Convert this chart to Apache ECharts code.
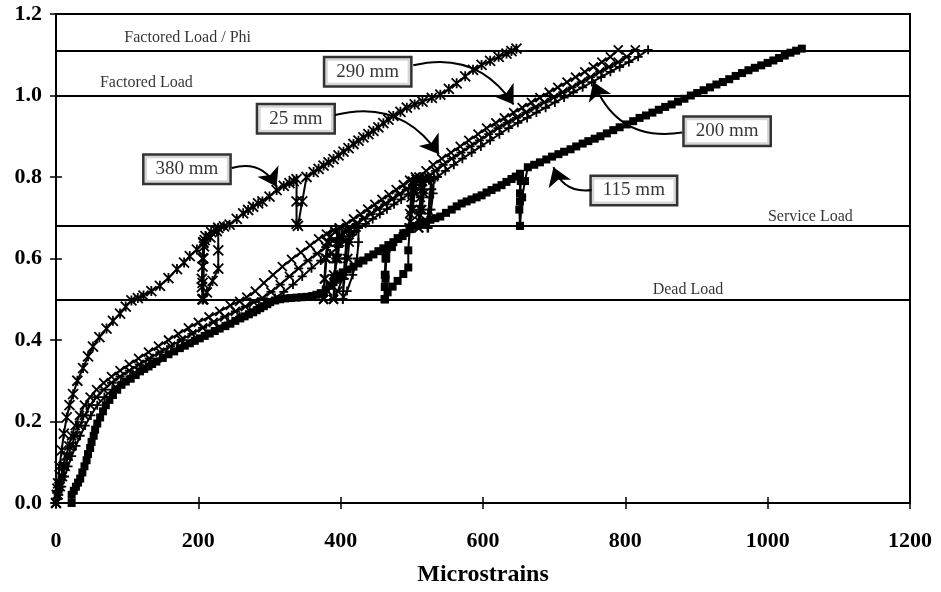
<!DOCTYPE html>
<html><head><meta charset="utf-8">
<script src="https://cdn.jsdelivr.net/npm/echarts@6/dist/echarts.min.js"></script>
<style>html,body{margin:0;padding:0;background:#fff}#c{width:941px;height:592px}</style>
</head><body><div id="c"></div>
<script>
// ---- data ----
const xTicks = [0, 200, 400, 600, 800, 1000, 1200];
const yTicks = [0, 0.2, 0.4, 0.6, 0.8, 1.0, 1.2];
const loadLevels = [1.11, 1.0, 0.675, 0.5];
const loadNames = ['Factored Load / Phi', 'Factored Load', 'Service Load', 'Dead Load'];
const seriesNames = ['380 mm', '25 mm', '290 mm', '200 mm', '115 mm'];

const x380 = [0,1,2,3,5,8,11,15,19,24,30,38,45,52,61,71,80,90,98,106,115,123,134,146,158,170,180,188,198,207,217,226,228,
  228,228,220,212,206,
  205,206,207,206,205,206,208,207,206,207,209,210,
  218,228,236,244,254,263,270,277,284,290,300,310,320,328,334,338,
  338,338,340,346,352,
  362,369,376,383,390,397,404,411,418,425,432,439,446,453,460,467,474,484,493,504,515,528,540,552,563,575,586,598,610,622,633,640,647];
const y380 = [0,0.02,0.035,0.048,0.09,0.129,0.17,0.21,0.24,0.267,0.3,0.331,0.36,0.384,0.407,0.428,0.447,0.465,0.482,0.497,0.503,0.509,0.52,0.533,0.552,0.574,0.59,0.606,0.622,0.638,0.652,0.667,0.675,
  0.62,0.575,0.545,0.517,0.5,
  0.55,0.6,0.64,0.5,0.53,0.58,0.63,0.5,0.54,0.6,0.645,0.655,
  0.665,0.675,0.679,0.683,0.697,0.711,0.719,0.727,0.735,0.74,0.752,0.768,0.778,0.785,0.79,0.795,
  0.74,0.685,0.68,0.74,0.8,
  0.812,0.82,0.828,0.836,0.844,0.853,0.862,0.871,0.881,0.889,0.897,0.905,0.913,0.922,0.932,0.941,0.95,0.96,0.97,0.978,0.985,0.994,1.002,1.016,1.03,1.047,1.063,1.075,1.085,1.095,1.103,1.109,1.115];

const x25 = [0,2,4,7,10,14,18,22,27,33,40,48,57,67,78,90,103,116,130,144,158,172,186,200,215,230,245,258,268,280,292,305,318,331,344,357,369,380,390,398,
  398,396,390,382,376,377,379,381,376,378,380,383,386,392,398,
  408,418,428,438,448,458,468,478,488,497,505,
  504,501,498,496,497,499,501,497,499,502,506,510,
  520,530,542,555,568,580,593,605,618,630,643,655,668,680,693,705,718,730,743,755,767,779,790];
const y25 = [0,0.02,0.04,0.065,0.09,0.115,0.14,0.165,0.19,0.215,0.24,0.26,0.278,0.295,0.31,0.325,0.34,0.355,0.37,0.385,0.4,0.415,0.43,0.443,0.457,0.47,0.485,0.495,0.505,0.52,0.54,0.56,0.58,0.598,0.615,0.632,0.648,0.66,0.67,0.675,
  0.64,0.6,0.56,0.52,0.5,0.55,0.6,0.64,0.5,0.55,0.6,0.64,0.655,0.665,0.675,
  0.685,0.697,0.709,0.721,0.733,0.745,0.757,0.769,0.781,0.792,0.8,
  0.76,0.72,0.69,0.675,0.71,0.75,0.79,0.675,0.72,0.77,0.795,0.8,
  0.815,0.83,0.845,0.86,0.875,0.89,0.905,0.92,0.933,0.945,0.958,0.97,0.983,0.995,1.008,1.02,1.033,1.045,1.058,1.07,1.082,1.095,1.112];

const x290 = [0,3,6,9,13,17,22,27,33,40,48,57,67,78,90,103,117,131,146,161,176,191,206,221,237,252,266,278,290,302,315,328,341,354,367,379,390,400,408,412,
  412,410,404,396,390,391,393,395,390,392,394,397,400,406,412,
  422,432,442,452,462,472,482,492,502,511,518,
  517,514,511,509,510,512,514,510,512,515,519,523,
  533,544,556,569,582,595,608,621,634,647,660,673,686,699,712,725,738,751,764,777,790,802,814];
const y290 = [0,0.02,0.04,0.065,0.09,0.115,0.14,0.165,0.19,0.215,0.24,0.26,0.278,0.295,0.31,0.325,0.34,0.355,0.37,0.385,0.4,0.415,0.43,0.443,0.457,0.47,0.482,0.493,0.503,0.518,0.536,0.556,0.576,0.595,0.612,0.628,0.645,0.658,0.668,0.675,
  0.64,0.6,0.56,0.52,0.5,0.55,0.6,0.64,0.5,0.55,0.6,0.64,0.655,0.665,0.675,
  0.685,0.697,0.709,0.721,0.733,0.745,0.757,0.769,0.781,0.792,0.8,
  0.76,0.72,0.69,0.675,0.71,0.75,0.79,0.675,0.72,0.77,0.795,0.8,
  0.815,0.83,0.845,0.86,0.875,0.89,0.905,0.92,0.933,0.945,0.958,0.97,0.983,0.995,1.008,1.02,1.033,1.045,1.058,1.07,1.082,1.095,1.112];

const x200 = [0,4,8,12,17,22,28,34,41,49,58,68,79,91,104,118,132,147,162,178,194,210,226,242,258,272,285,297,308,320,333,346,359,372,385,397,407,416,422,425,
  425,423,417,409,403,404,406,408,403,405,407,410,413,419,425,
  435,445,455,465,475,485,495,505,515,524,531,
  530,527,524,522,523,525,527,523,525,528,532,536,
  547,559,571,584,597,610,623,636,649,662,675,688,701,714,727,740,753,766,779,792,805,818,832];
const y200 = [0,0.02,0.04,0.065,0.09,0.115,0.14,0.165,0.19,0.215,0.24,0.26,0.278,0.295,0.31,0.325,0.34,0.355,0.37,0.385,0.4,0.415,0.43,0.443,0.457,0.47,0.482,0.493,0.503,0.518,0.536,0.556,0.576,0.595,0.612,0.628,0.645,0.658,0.668,0.675,
  0.64,0.6,0.56,0.52,0.5,0.55,0.6,0.64,0.5,0.55,0.6,0.64,0.655,0.665,0.675,
  0.685,0.697,0.709,0.721,0.733,0.745,0.757,0.769,0.781,0.792,0.8,
  0.76,0.72,0.69,0.675,0.71,0.75,0.79,0.675,0.72,0.77,0.795,0.8,
  0.815,0.83,0.845,0.86,0.875,0.89,0.905,0.92,0.933,0.945,0.958,0.97,0.983,0.995,1.008,1.02,1.033,1.045,1.058,1.07,1.082,1.095,1.112];

const x115 = [22,22,25,28,31,34,37,40,43,45,48,50,53,55,58,62,66,70,75,80,86,92,98,105,112,118,124,130,135,141,150,158,166,174,181,188,195,202,209,216,223,230,238,245,252,259,265,271,277,282,287,292,297,301,308,315,322,330,338,345,352,360,366,372,379,385,390,395,399,403,410,418,425,432,439,446,453,460,467,474,481,487,492,497,
  495,495,488,480,473,466,462,
  462,462,463,462,463,464,462,463,464,472,480,488,497,
  505,512,519,526,533,540,548,556,563,570,577,584,591,598,605,612,619,626,633,640,646,652,
  652,651,652,652,653,652,655,659,663,
  672,680,689,697,706,714,723,731,740,748,757,765,774,783,792,802,811,820,829,838,847,856,865,874,883,892,901,910,919,928,937,946,955,964,973,982,991,1000,1008,1016,1024,1032,1040,1048];
const y115 = [0,0.02,0.03,0.04,0.05,0.06,0.075,0.09,0.105,0.12,0.135,0.15,0.165,0.18,0.195,0.21,0.225,0.24,0.253,0.265,0.278,0.29,0.298,0.305,0.314,0.323,0.329,0.335,0.341,0.347,0.356,0.365,0.372,0.38,0.386,0.392,0.398,0.404,0.41,0.416,0.422,0.428,0.434,0.44,0.447,0.453,0.458,0.463,0.468,0.473,0.478,0.483,0.488,0.493,0.497,0.5,0.502,0.503,0.504,0.505,0.506,0.508,0.511,0.515,0.524,0.533,0.542,0.55,0.558,0.566,0.573,0.58,0.588,0.595,0.603,0.61,0.618,0.625,0.633,0.64,0.648,0.655,0.663,0.672,
  0.62,0.578,0.562,0.545,0.531,0.517,0.5,
  0.53,0.56,0.6,0.5,0.56,0.618,0.5,0.55,0.6,0.628,0.65,0.662,0.675,
  0.68,0.685,0.69,0.695,0.699,0.703,0.712,0.72,0.728,0.735,0.74,0.745,0.75,0.755,0.762,0.768,0.774,0.78,0.788,0.795,0.801,0.808,
  0.76,0.72,0.68,0.74,0.79,0.68,0.75,0.79,0.824,
  0.83,0.836,0.843,0.85,0.856,0.862,0.868,0.875,0.882,0.888,0.894,0.9,0.907,0.915,0.922,0.929,0.937,0.945,0.951,0.958,0.965,0.972,0.978,0.985,0.992,1.0,1.006,1.013,1.02,1.027,1.033,1.04,1.048,1.055,1.062,1.068,1.074,1.08,1.086,1.092,1.098,1.105,1.11,1.115];

// ---- annotation placement (data coordinates) ----
const loadLabelPos = [[185, 1.142], [127, 1.030], [1060, 0.703], [888, 0.524]];
const boxPos = [[184, 0.819], [337, 0.943], [438, 1.058], [943, 0.912], [812, 0.767]];
const arrowFrom = [[247, 0.822], [392, 0.952], [502, 1.074], [880, 0.909], [753, 0.768]];
const arrowTo = [[310, 0.776], [538, 0.856], [643, 0.978], [755, 1.034], [699, 0.824]];
const arrowCurve = [0.4, 0.35, 0.35, 0.4, 0.4];

const zip = (xs, ys) => xs.map((x, i) => [x, ys[i]]);
const FONT = '"Liberation Serif", "DejaVu Serif", serif';

const sym = {
  star: 'path://M0,0L10,10M10,0L0,10M5,0L5,10',
  x: 'path://M0,0L10,10M10,0L0,10',
  plus: 'path://M5,0L5,10M0,5L10,5',
  ast: 'path://M0,0L10,10M10,0L0,10M0,5L10,5'
};

function lineSeries(name, xs, ys, symbol, size, strokeOnly) {
  return {
    name, type: 'line', data: zip(xs, ys), symbol, symbolSize: size, showAllSymbol: true,
    lineStyle: { color: '#000', width: 2 },
    itemStyle: strokeOnly ? { color: '#000', borderColor: '#000', borderWidth: 1.8 } : { color: '#000' },
    z: 3
  };
}

const chart = echarts.init(document.getElementById('c'), null, { renderer: 'canvas' });
const axisLabelCommon = { fontFamily: FONT, fontWeight: 'bold', fontSize: 22, color: '#000' };
chart.setOption({
  animation: false,
  backgroundColor: '#fff',
  grid: { left: 56, right: 31, top: 14, bottom: 82, show: true, borderColor: '#000', borderWidth: 2, containLabel: false },
  xAxis: [{
    type: 'value', min: 0, max: 1200, interval: 200,
    axisLine: { lineStyle: { color: '#000', width: 2 } },
    axisTick: { length: 6, lineStyle: { color: '#000', width: 1.5 } },
    splitLine: { show: false },
    axisLabel: Object.assign({ margin: 27, formatter: v => String(v) }, axisLabelCommon),
    name: 'Microstrains', nameLocation: 'middle', nameGap: 60,
    nameTextStyle: { fontFamily: FONT, fontWeight: 'bold', fontSize: 24, color: '#000' }
  }, {
    type: 'value', min: 0, max: 1200, interval: 200, position: 'bottom',
    axisLine: { show: false }, axisTick: { inside: true, length: 6, lineStyle: { color: '#000', width: 1.5 } },
    axisLabel: { show: false }, splitLine: { show: false }
  }],
  yAxis: [{
    type: 'value', min: 0, max: 1.2, interval: 0.2,
    axisLine: { lineStyle: { color: '#000', width: 2 } },
    axisTick: { length: 6, lineStyle: { color: '#000', width: 1.5 } },
    splitLine: { show: false },
    axisLabel: Object.assign({ margin: 14, padding: [13, 0, 0, 0], formatter: v => v.toFixed(1) }, axisLabelCommon)
  }, {
    type: 'value', min: 0, max: 1.2, interval: 0.2, position: 'left',
    axisLine: { show: false }, axisTick: { inside: true, length: 6, lineStyle: { color: '#000', width: 1.5 } },
    axisLabel: { show: false }, splitLine: { show: false }
  }],
  series: [
    {
      name: 'loads', type: 'scatter', data: loadLevels.map((v, i) => [loadLabelPos[i][0], loadLabelPos[i][1], loadNames[i]]),
      symbolSize: 0, silent: true,
      label: { show: true, position: 'inside', formatter: p => p.data[2], fontFamily: FONT, fontSize: 16, color: '#000' },
      markLine: {
        silent: true, symbol: 'none', animation: false,
        lineStyle: { color: '#000', width: 2.2, type: 'solid' },
        label: { show: false },
        data: loadLevels.map(v => ({ yAxis: v }))
      }, z: 2
    },
    lineSeries('380 mm', x380, y380, sym.star, 10, true),
    lineSeries('25 mm', x25, y25, sym.x, 9, true),
    lineSeries('290 mm', x290, y290, sym.ast, 9, true),
    lineSeries('200 mm', x200, y200, sym.plus, 9, true),
    lineSeries('115 mm', x115, y115, 'rect', 8, false),
    {
      name: 'arrows', type: 'lines', coordinateSystem: 'cartesian2d', silent: true, z: 5,
      symbol: ['none', 'arrow'], symbolSize: [0, 18],
      lineStyle: { color: '#000', width: 2, opacity: 1 },
      data: arrowFrom.map((f, i) => ({ coords: [f, arrowTo[i]], lineStyle: { curveness: arrowCurve[i] } }))
    },
    {
      name: 'boxes', type: 'scatter', symbolSize: 0, silent: true, z: 6,
      data: seriesNames.map((n, i) => [boxPos[i][0], boxPos[i][1], n]),
      label: {
        show: true, position: 'inside', formatter: p => p.data[2],
        fontFamily: FONT, fontSize: 19, color: '#000',
        backgroundColor: '#fff', borderColor: '#000', borderWidth: 2.5, padding: [5, 11, 3, 11]
      }
    }
  ]
});
</script></body></html>
